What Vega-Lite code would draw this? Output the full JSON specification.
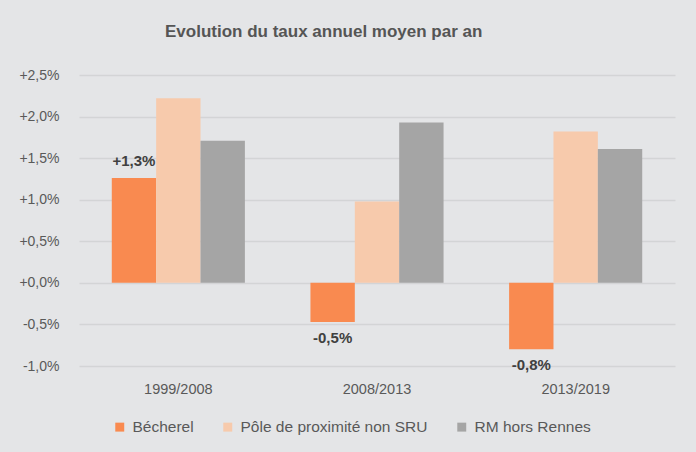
{
  "$schema": "https://vega.github.io/schema/vega-lite/v6.json",
  "width": 596,
  "height": 291,
  "autosize": {"type": "none"},
  "padding": {"left": 79, "top": 75, "right": 21, "bottom": 86},
  "background": "#E4E5E7",
  "title": {
    "text": "Evolution du taux annuel moyen par an",
    "anchor": "start",
    "frame": "group",
    "dx": 86,
    "offset": 27,
    "font": "Liberation Sans, Arial, sans-serif",
    "fontSize": 17,
    "fontWeight": "bold",
    "color": "#555555"
  },
  "data": {
    "values": [
      {"periode": "1999/2008", "serie": "Bécherel", "taux": 1.26},
      {"periode": "1999/2008", "serie": "Pôle de proximité non SRU", "taux": 2.22},
      {"periode": "1999/2008", "serie": "RM hors Rennes", "taux": 1.71},
      {"periode": "2008/2013", "serie": "Bécherel", "taux": -0.47},
      {"periode": "2008/2013", "serie": "Pôle de proximité non SRU", "taux": 0.98},
      {"periode": "2008/2013", "serie": "RM hors Rennes", "taux": 1.93},
      {"periode": "2013/2019", "serie": "Bécherel", "taux": -0.80},
      {"periode": "2013/2019", "serie": "Pôle de proximité non SRU", "taux": 1.82},
      {"periode": "2013/2019", "serie": "RM hors Rennes", "taux": 1.61}
    ]
  },
  "encoding": {
    "x": {
      "field": "periode",
      "type": "nominal",
      "sort": null,
      "scale": {"paddingInner": 0.33, "paddingOuter": 0.165},
      "axis": {
        "title": null,
        "labelAngle": 0,
        "ticks": false,
        "domain": false,
        "labelPadding": 16,
        "labelFontSize": 14.5,
        "labelColor": "#595959",
        "labelFont": "Liberation Sans, Arial, sans-serif"
      }
    },
    "xOffset": {"field": "serie", "type": "nominal", "sort": null},
    "y": {
      "field": "taux",
      "type": "quantitative",
      "scale": {"domain": [-1, 2.5], "nice": false, "zero": false},
      "axis": {
        "title": null,
        "values": [-1, -0.5, 0, 0.5, 1, 1.5, 2, 2.5],
        "labelExpr": "(datum.value < 0 ? '-' : '+') + replace(format(abs(datum.value), '.1f'), '.', ',') + '%'",
        "ticks": false,
        "domain": false,
        "grid": true,
        "gridColor": "#D3D4D6",
        "gridWidth": 1.5,
        "labelPadding": 20,
        "labelFontSize": 14,
        "labelColor": "#595959",
        "labelFont": "Liberation Sans, Arial, sans-serif"
      }
    }
  },
  "layer": [
    {
      "mark": {"type": "bar"},
      "encoding": {
        "color": {
          "field": "serie",
          "type": "nominal",
          "sort": null,
          "scale": {
            "domain": ["Bécherel", "Pôle de proximité non SRU", "RM hors Rennes"],
            "range": ["#F98A50", "#F7CAAC", "#A5A5A5"]
          },
          "legend": {
            "title": null,
            "orient": "none",
            "direction": "horizontal",
            "legendX": 33,
            "legendY": 344,
            "symbolType": "square",
            "symbolSize": 80,
            "symbolStrokeWidth": 0,
            "labelFontSize": 15.5,
            "labelLimit": 0,
            "labelColor": "#595959",
            "labelFont": "Liberation Sans, Arial, sans-serif",
            "labelOffset": 5,
            "columnPadding": 26
          }
        }
      }
    },
    {
      "transform": [
        {"filter": "datum.serie == 'Bécherel' && datum.taux >= 0"},
        {"calculate": "'+' + replace(format(datum.taux, '.1f'), '.', ',') + '%'", "as": "etiquette"}
      ],
      "mark": {
        "type": "text",
        "dy": -17,
        "baseline": "middle",
        "fontWeight": "bold",
        "fontSize": 15,
        "color": "#404040",
        "font": "Liberation Sans, Arial, sans-serif"
      },
      "encoding": {"text": {"field": "etiquette"}}
    },
    {
      "transform": [
        {"filter": "datum.serie == 'Bécherel' && datum.taux < 0"},
        {"calculate": "'-' + replace(format(abs(datum.taux), '.1f'), '.', ',') + '%'", "as": "etiquette"}
      ],
      "mark": {
        "type": "text",
        "dy": 16,
        "baseline": "middle",
        "fontWeight": "bold",
        "fontSize": 15,
        "color": "#404040",
        "font": "Liberation Sans, Arial, sans-serif"
      },
      "encoding": {"text": {"field": "etiquette"}}
    }
  ],
  "config": {"view": {"stroke": null}}
}
